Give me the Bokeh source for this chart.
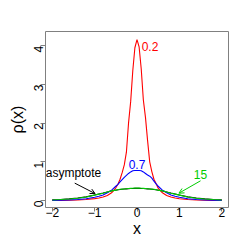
import math
from bokeh.plotting import figure
from bokeh.models import Range1d, Arrow, OpenHead, Label, FixedTicker
from bokeh.embed import file_html
from bokeh.resources import INLINE

# ---- data ----
x = [-2.0, -1.8, -1.6, -1.4, -1.2, -1.0, -0.9, -0.8, -0.7, -0.6, -0.5, -0.45, -0.4,
     -0.35, -0.3, -0.25, -0.2, -0.15, -0.1, -0.05, 0.0, 0.05, 0.1, 0.15, 0.2, 0.25,
     0.3, 0.35, 0.4, 0.45, 0.5, 0.6, 0.7, 0.8, 0.9, 1.0, 1.2, 1.4, 1.6, 1.8, 2.0]

rho_02 = [0.003, 0.005, 0.008, 0.013, 0.025, 0.05, 0.065, 0.09, 0.13, 0.2, 0.33, 0.42, 0.55,
          0.72, 0.92, 1.25, 2.0, 2.55, 3.35, 3.95, 4.16, 3.97, 3.4, 2.6, 2.15, 1.55,
          1.0, 0.75, 0.55, 0.44, 0.32, 0.2, 0.13, 0.09, 0.065, 0.045, 0.025, 0.013, 0.008, 0.005, 0.003]

rho_07 = [0.005, 0.01, 0.015, 0.025, 0.045, 0.085, 0.11, 0.145, 0.2, 0.27, 0.37, 0.42, 0.48,
          0.54, 0.6, 0.65, 0.7, 0.74, 0.77, 0.775, 0.775, 0.775, 0.77, 0.74, 0.7, 0.66,
          0.63, 0.58, 0.5, 0.43, 0.37, 0.27, 0.2, 0.145, 0.11, 0.085, 0.045, 0.025, 0.015, 0.01, 0.005]

rho_15 = [0.015, 0.025, 0.04, 0.06, 0.09, 0.14, 0.165, 0.19, 0.22, 0.25, 0.27, 0.28, 0.29,
          0.295, 0.3, 0.305, 0.31, 0.315, 0.318, 0.32, 0.32, 0.32, 0.318, 0.315, 0.31, 0.305,
          0.3, 0.295, 0.29, 0.28, 0.27, 0.25, 0.22, 0.19, 0.165, 0.14, 0.09, 0.06, 0.04, 0.025, 0.015]

rho_asym = [0.017, 0.028, 0.043, 0.064, 0.095, 0.145, 0.17, 0.195, 0.223, 0.25, 0.268, 0.277, 0.286,
            0.292, 0.297, 0.302, 0.306, 0.31, 0.313, 0.315, 0.315, 0.315, 0.313, 0.31, 0.306, 0.302,
            0.297, 0.292, 0.286, 0.277, 0.268, 0.25, 0.223, 0.195, 0.17, 0.145, 0.095, 0.064, 0.043, 0.028, 0.017]

x_ticks = [-2, -1, 0, 1, 2]
y_ticks = [0, 1, 2, 3, 4]

labels = ["0.2", "0.7", "15", "asymptote"]
label_x = [0.11, 0.0, 1.5, -1.5]
label_y = [3.99, 0.94, 0.68, 0.70]
arrow_asym = [(-1.47, 0.45), (-0.99, 0.18)]
arrow_15 = [(1.50, 0.51), (0.99, 0.19)]

RED = "#FF0000"
BLUE = "#0000FF"
GREEN = "#00CC00"
FONT = "Liberation Sans"

p = figure(frame_width=183, frame_height=176,
           x_range=Range1d(-2.16, 2.16), y_range=Range1d(-0.18, 4.37),
           output_backend="svg", toolbar_location=None,
           min_border_left=45, min_border_top=31, min_border_right=17, min_border_bottom=38)
p.background_fill_color = "white"
p.border_fill_color = "white"
p.grid.visible = False
p.outline_line_color = "#808080"
p.outline_line_width = 1

for ax in (p.xaxis[0], p.yaxis[0]):
    ax.axis_line_color = None
    ax.major_tick_line_color = "#808080"
    ax.major_tick_in = 0
    ax.minor_tick_line_color = None
    ax.major_label_text_font = FONT
    ax.major_label_text_font_size = "12px"
    ax.major_label_text_color = "black"
    ax.axis_label_text_font = FONT
    ax.axis_label_text_font_size = "16px"
    ax.axis_label_text_font_style = "normal"
    ax.axis_label_text_color = "black"

p.xaxis.ticker = FixedTicker(ticks=x_ticks)
p.yaxis.ticker = FixedTicker(ticks=y_ticks)
p.xaxis.axis_label = "x"
p.yaxis.axis_label = "ρ(x)"
p.xaxis.major_tick_out = 4
p.yaxis.major_tick_out = 5
p.xaxis.major_label_standoff = -4
p.yaxis.major_label_standoff = 2
p.xaxis.axis_label_standoff = 0
p.yaxis.axis_label_standoff = 1
p.yaxis.major_label_orientation = math.pi / 2

p.line(x, rho_asym, line_color="black", line_width=1.1)
p.line(x, rho_02, line_color=RED, line_width=1.1)
p.line(x, rho_07, line_color=BLUE, line_width=1.1)
p.line(x, rho_15, line_color=GREEN, line_width=1.1)

colors = [RED, BLUE, GREEN, "black"]
aligns = ["left", "center", "center", "center"]
for t, lx, ly, c, a in zip(labels, label_x, label_y, colors, aligns):
    p.add_layout(Label(x=lx, y=ly, text=t, text_color=c, text_font=FONT,
                       text_font_size="12px", text_align=a, text_baseline="middle"))

for (s, e), c in ((arrow_asym, "black"), (arrow_15, GREEN)):
    p.add_layout(Arrow(end=OpenHead(size=5, line_color=c, line_width=1),
                       x_start=s[0], y_start=s[1], x_end=e[0], y_end=e[1],
                       line_color=c, line_width=1))

open("out.html", "w").write(file_html(p, INLINE))
